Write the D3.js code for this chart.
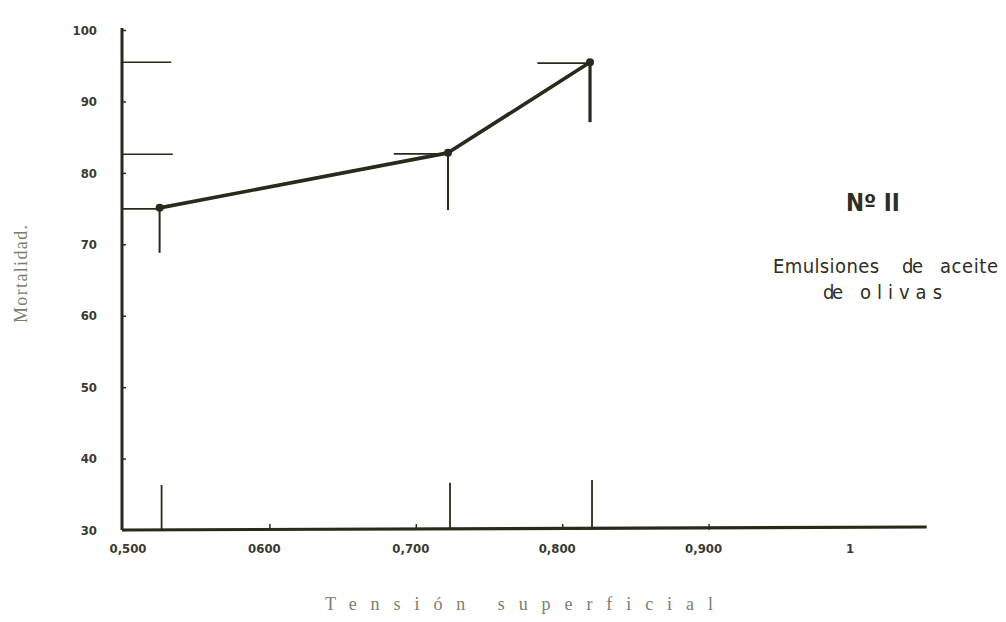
<!DOCTYPE html>
<html>
<head>
<meta charset="utf-8">
<script src="https://cdn.jsdelivr.net/npm/d3@7"></script>
<style>
  body { margin: 0; background: #fff; }
  .tick-label { font-family: "DejaVu Sans Condensed", "DejaVu Sans", sans-serif; font-weight: bold; font-size: 13px; fill: #3a3a30; }
  .aText { font-family: "Liberation Serif", "DejaVu Serif", serif; fill: #7d7d6c; }
  .note { font-family: "DejaVu Sans Condensed", "DejaVu Sans", sans-serif; fill: #2e2e22; }
</style>
</head>
<body>
<div id="chart"></div>
<script>
// Data
var tension = [0.525, 0.722, 0.819];
var mortalidad = [75.1, 82.8, 95.5];
var barLow = [68.8, 74.8, 87.1];        // lower end of the vertical bars
var barLeft = [0.5, 0.685, 0.783];      // left end of the horizontal bars
var baseTop = [36.3, 36.6, 37.0];       // top of the marks standing on the x axis
var axisRefs = [95.5, 82.6];            // short lines drawn out from the y axis

var yTicks = [100, 90, 80, 70, 60, 50, 40, 30];
var xTicks = [0.5, 0.6, 0.7, 0.8, 0.9, 1.0];
var xTickLabels = ["0,500", "0600", "0,700", "0,800", "0,900", "1"];

var svgWidth = 1006;
var svgHeight = 622;

var margin = { top: 30, right: 79, bottom: 92, left: 123 };
var width = svgWidth - margin.left - margin.right;
var height = svgHeight - margin.top - margin.bottom;

var ink = "#2a2a1c";

var svg = d3.select("#chart")
  .append("svg")
  .attr("width", svgWidth)
  .attr("height", svgHeight);

var chartGroup = svg.append("g")
  .attr("transform", `translate(${margin.left}, ${margin.top})`);

// Scales
// ==============================
var xScale = d3.scaleLinear()
  .domain([0.5, 1.0])
  .range([0, 732]);

var yScale = d3.scaleLinear()
  .domain([30, 100])
  .range([height, 0]);

// Axes
// ==============================
var leftAxis = d3.axisLeft(yScale)
  .tickValues(yTicks)
  .tickSize(-3)
  .tickPadding(26)
  .tickFormat(d3.format("d"));

var bottomAxis = d3.axisBottom(xScale)
  .tickValues(xTicks.slice(1, 5))
  .tickSize(-6)
  .tickFormat("");

var yAxisG = chartGroup.append("g").call(leftAxis);
yAxisG.select(".domain").remove();
yAxisG.selectAll("line").attr("stroke", ink).attr("stroke-width", 1.5);
yAxisG.selectAll("text").attr("class", "tick-label");

var xAxisG = chartGroup.append("g")
  .attr("transform", `translate(0, ${height})`)
  .call(bottomAxis);
xAxisG.select(".domain").remove();
xAxisG.selectAll("line").attr("stroke", ink).attr("stroke-width", 1.5);

// x tick labels
chartGroup.selectAll(".xlab")
  .data(xTicks)
  .enter()
  .append("text")
  .attr("class", "tick-label")
  .attr("x", (d, i) => xScale(d) + (i === 0 ? 5 : -5))
  .attr("y", height + 23)
  .attr("text-anchor", "middle")
  .text((d, i) => xTickLabels[i]);

// axis lines, drawn heavy like ink
chartGroup.append("line")
  .attr("x1", -1).attr("y1", yScale(100) - 2)
  .attr("x2", -1).attr("y2", height)
  .attr("stroke", ink).attr("stroke-width", 3);

chartGroup.append("line")
  .attr("x1", -1).attr("y1", height)
  .attr("x2", xScale(1.049)).attr("y2", height - 3)
  .attr("stroke", ink).attr("stroke-width", 3.2);

// reference lines from the y axis
chartGroup.selectAll(".ref")
  .data(axisRefs)
  .enter()
  .append("line")
  .attr("x1", 0)
  .attr("x2", (d, i) => xScale(i === 0 ? 0.533 : 0.534))
  .attr("y1", d => yScale(d))
  .attr("y2", d => yScale(d))
  .attr("stroke", ink)
  .attr("stroke-width", 1.5);

// horizontal bars to the points
chartGroup.selectAll(".hbar")
  .data(tension)
  .enter()
  .append("line")
  .attr("x1", (d, i) => xScale(barLeft[i]))
  .attr("x2", d => xScale(d))
  .attr("y1", (d, i) => yScale(mortalidad[i]) + 1)
  .attr("y2", (d, i) => yScale(mortalidad[i]) + 1)
  .attr("stroke", ink)
  .attr("stroke-width", 1.8);

// vertical bars below the points
chartGroup.selectAll(".vbar")
  .data(tension)
  .enter()
  .append("line")
  .attr("x1", d => xScale(d))
  .attr("x2", d => xScale(d))
  .attr("y1", (d, i) => yScale(mortalidad[i]))
  .attr("y2", (d, i) => yScale(barLow[i]))
  .attr("stroke", ink)
  .attr("stroke-width", (d, i) => i === 2 ? 3.2 : 2);

// marks standing on the x axis
chartGroup.selectAll(".base")
  .data(tension)
  .enter()
  .append("line")
  .attr("x1", d => xScale(d) + 2)
  .attr("x2", d => xScale(d) + 2)
  .attr("y1", (d, i) => yScale(baseTop[i]))
  .attr("y2", height)
  .attr("stroke", ink)
  .attr("stroke-width", 1.8);

// Data line and points
// ==============================
var line = d3.line()
  .x(d => xScale(d[0]))
  .y(d => yScale(d[1]));

chartGroup.append("path")
  .datum(d3.zip(tension, mortalidad))
  .attr("d", line)
  .attr("fill", "none")
  .attr("stroke", ink)
  .attr("stroke-width", 3.6)
  .attr("stroke-linejoin", "round");

chartGroup.selectAll("circle")
  .data(tension)
  .enter()
  .append("circle")
  .attr("cx", d => xScale(d))
  .attr("cy", (d, i) => yScale(mortalidad[i]))
  .attr("r", 4)
  .attr("fill", ink);

// Axis titles
// ==============================
svg.append("text")
  .attr("class", "aText")
  .attr("transform", "translate(27, 274) rotate(-90)")
  .attr("text-anchor", "middle")
  .attr("font-size", 18)
  .attr("textLength", 98)
  .attr("lengthAdjust", "spacing")
  .text("Mortalidad.");

svg.append("text")
  .attr("class", "aText")
  .attr("x", 325)
  .attr("y", 610)
  .attr("font-size", 18)
  .attr("textLength", 388)
  .attr("lengthAdjust", "spacing")
  .text("Tensión superficial");

// Note on the right
// ==============================
svg.append("text")
  .attr("class", "note")
  .attr("x", 846).attr("y", 211)
  .attr("font-size", 24)
  .attr("font-weight", "bold")
  .text("Nº II");

var noteWords = [
  { t: "Emulsiones", x: 773, y: 273, w: 106 },
  { t: "de", x: 902, y: 273, w: 21 },
  { t: "aceite", x: 940, y: 273, w: 58 },
  { t: "de", x: 823, y: 299, w: 20 },
  { t: "olivas", x: 860, y: 299, w: 82 }
];

svg.selectAll(".noteword")
  .data(noteWords)
  .enter()
  .append("text")
  .attr("class", "note")
  .attr("x", d => d.x)
  .attr("y", d => d.y)
  .attr("font-size", 20)
  .attr("textLength", d => d.w)
  .attr("lengthAdjust", "spacing")
  .text(d => d.t);
</script>
</body>
</html>
